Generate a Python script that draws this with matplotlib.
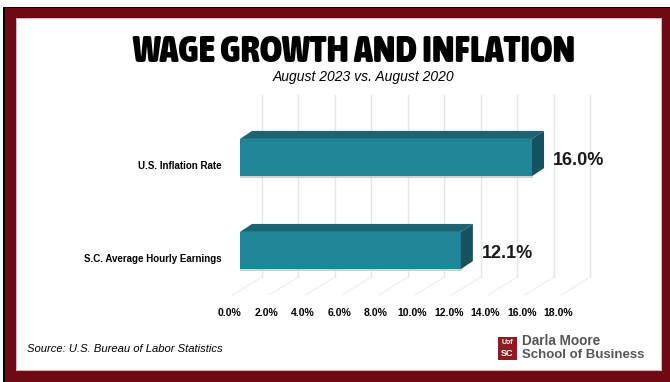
import matplotlib
matplotlib.use("Agg")
import matplotlib.pyplot as plt
from matplotlib.patches import Rectangle, Polygon
from matplotlib import font_manager

# data
categories = ["U.S. Inflation Rate", "S.C. Average Hourly Earnings"]
values = [16.0, 12.1]
positions = [1, 0]
ticks = [0, 2, 4, 6, 8, 10, 12, 14, 16, 18]

title = "WAGE GROWTH AND INFLATION"
subtitle = "August 2023 vs. August 2020"
source = "Source: U.S. Bureau of Labor Statistics"

front_col = "#1f8597"
top_col = "#1b6472"
side_col = "#16525d"
frame_col = "#6e0a12"

plt.rcParams["font.family"] = ["Liberation Sans", "DejaVu Sans"]


def pick_title_font():
    # look for a condensed / narrow bold face for the headline
    narrow = ("condensed", "extra-condensed", "ultra-condensed", "semi-condensed")
    best, best_score = None, -1
    for f in font_manager.fontManager.ttflist:
        wide = str(f.stretch) not in narrow and "Condensed" not in f.name \
            and "Narrow" not in f.name and "Condensed" not in f.fname \
            and "Narrow" not in f.fname
        if wide or f.style != "normal":
            continue
        w = f.weight if isinstance(f.weight, int) else 400
        score = w + (200 if "extra" in str(f.stretch) else 0)
        if score > best_score:
            best, best_score = f, score
    if best is None:
        return font_manager.FontProperties(family="DejaVu Sans", weight="bold")
    return font_manager.FontProperties(fname=best.fname)


W, H = 670, 382
fig = plt.figure(figsize=(W / 100, H / 100), dpi=100)

# frame drawn in pixel coordinates
bg = fig.add_axes([0, 0, 1, 1])
bg.set_xlim(0, W)
bg.set_ylim(H, 0)
bg.axis("off")
bg.add_patch(Rectangle((3, 7), W - 3, H - 7, color="black", lw=0))
bg.add_patch(Rectangle((5, 8), W - 5, H - 8, color=frame_col, lw=0))
bg.add_patch(Rectangle((16, 18), 646, 353, color="#d9b3b6", lw=0))
bg.add_patch(Rectangle((17, 19), 644, 351, color="white", lw=0))

# logo
bg.add_patch(Rectangle((498, 337), 19, 23, color="#8c1c22", lw=0))
bg.text(507.5, 343, "Uof", color="white", fontsize=5,
        fontweight="bold", ha="center", va="center")
bg.text(507.5, 353, "SC", color="white", fontsize=6.5, fontweight="bold",
        ha="center", va="center")
bg.text(522, 341, "Darla Moore", color="#555555", fontsize=9.8,
        fontweight="bold", ha="left", va="center")
bg.text(522, 355, "School of Business", color="#555555", fontsize=9.5,
        fontweight="bold", ha="left", va="center")

# headline, shrunk until it fits its width
tprop = pick_title_font()
t = fig.text(354 / W, 1 - 62 / H, title, fontproperties=tprop,
             fontsize=30, ha="center", va="baseline")
renderer = fig.canvas.get_renderer()
size = 30
while t.get_window_extent(renderer).width > 448 and size > 8:
    size -= 0.5
    t.set_fontsize(size)

fig.text(363 / W, 1 - 77.5 / H, subtitle, fontsize=10, style="italic",
         ha="center", va="center")
fig.text(27 / W, 1 - 349 / H, source, fontsize=8.1, style="italic",
         ha="left", va="center")

# chart area: 0% at x=240px, 18.25 px per percent
ax = fig.add_axes([240 / W, 1 - 300 / H, 365 / W, 210 / H])
ax.set_xlim(0, 20)
ax.set_ylim(-0.532, 1.726)
ax.axis("off")

# gridlines on the back wall and floor
gdx = 1.2
for v in ticks:
    ax.plot([v + gdx, v + gdx], [-0.285, 1.672], color="#e6e6e6", lw=1, zorder=0)
    ax.plot([v + gdx, v - 0.4], [-0.285, -0.478], color="#eeeeee", lw=0.8,
            zorder=0, clip_on=False)
    ax.text(v - 0.55, -0.672, f"{v:.1f}%", fontsize=7.5, fontweight="bold",
            ha="center", va="center", clip_on=False)

# 3d bars
bh = 0.4
dx, dy = 0.66, 0.086
ax.barh(positions, values, height=bh, color=front_col, zorder=3)
for cat, val, yc in zip(categories, values, positions):
    top = [(0, yc + bh / 2), (dx, yc + bh / 2 + dy),
           (val + dx, yc + bh / 2 + dy), (val, yc + bh / 2)]
    side = [(val, yc - bh / 2), (val, yc + bh / 2),
            (val + dx, yc + bh / 2 + dy), (val + dx, yc - bh / 2 + dy)]
    ax.add_patch(Polygon(top, closed=True, color=top_col, lw=0, zorder=3))
    ax.add_patch(Polygon(side, closed=True, color=side_col, lw=0, zorder=3))
    ax.plot([0, val], [yc - bh / 2 - 0.01] * 2, color="#c8c8c8", lw=1.2, zorder=2)
    ax.text(val + 1.15, yc - 0.03, f"{val:.1f}%", fontsize=13,
            fontweight="bold", color="#1a1a1a", ha="left", va="center")
    ax.text(-0.99, yc - 0.09, cat, fontsize=7, fontweight="bold",
            ha="right", va="center", clip_on=False)

fig.savefig("out.png", dpi=100)
